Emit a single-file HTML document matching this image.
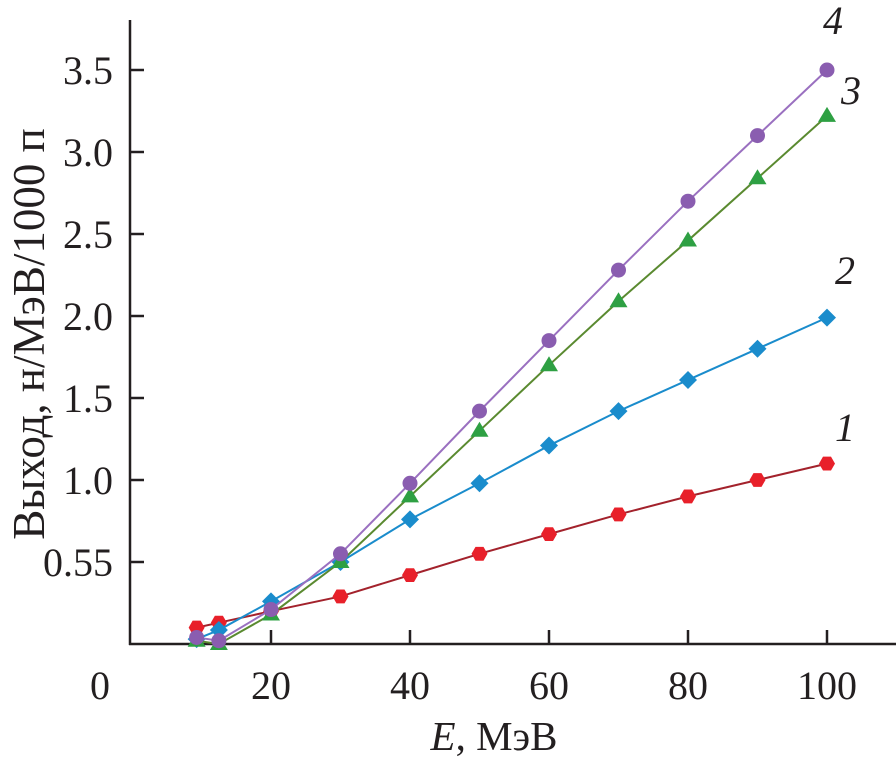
<!DOCTYPE html>
<html><head><meta charset="utf-8"><style>
body{margin:0;background:#fff}
svg text{font-family:"Liberation Serif",serif;fill:#231f20}
</style></head><body>
<svg width="896" height="759">
<g id="axes"></g><g id="series"></g>
</svg>
<script>
const energies=[9.3,12.5,20,30,40,50,60,70,80,90,100];
const s1=[0.10,0.13,0.20,0.29,0.42,0.55,0.67,0.79,0.90,1.00,1.10];
const s2=[0.03,0.085,0.26,0.50,0.76,0.98,1.21,1.42,1.61,1.80,1.99];
const s3=[0.02,0.00,0.18,0.50,0.90,1.30,1.70,2.09,2.46,2.84,3.22];
const s4=[0.04,0.02,0.21,0.55,0.98,1.42,1.85,2.28,2.70,3.10,3.50];
const xTicks=[20,40,60,80,100];
const yTicks=[0.5,1.0,1.5,2.0,2.5,3.0,3.5];
const yTickLabels=["0.55","1.0","1.5","2.0","2.5","3.0","3.5"];
const seriesNames=["1","2","3","4"];
const NS="http://www.w3.org/2000/svg";
const X=v=>132+(v-0)*6.95, Y=v=>644-v*164;
function mk(tag,attrs,parent,text){const e=document.createElementNS(NS,tag);for(const k in attrs)e.setAttribute(k,attrs[k]);if(text!==undefined)e.textContent=text;parent.appendChild(e);return e;}
const ax=document.getElementById('axes'), sg=document.getElementById('series');
let e=mk('line',{x1:130,y1:20,x2:130,y2:645,stroke:'#231f20','stroke-width':2.5},ax);

e=mk('line',{x1:129,y1:644,x2:896,y2:644,stroke:'#231f20','stroke-width':2.5},ax);

xTicks.forEach(t=>{mk('line',{x1:X(t),y1:644,x2:X(t),y2:630,stroke:'#231f20','stroke-width':2.5},ax);
const l=mk('text',{x:X(t),y:699,'font-size':40,'text-anchor':'middle'},ax,String(t));
});
const z=mk('text',{x:100,y:699,'font-size':40,'text-anchor':'middle'},ax,"0");

yTicks.forEach((t,i)=>{mk('line',{x1:130,y1:Y(t),x2:144,y2:Y(t),stroke:'#231f20','stroke-width':2.5},ax);
const l=mk('text',{x:113,y:Y(t)+14,'font-size':40,'text-anchor':'end'},ax,yTickLabels[i]);
});
e=mk('text',{x:0,y:0,'font-size':45,'text-anchor':'middle',transform:'translate(44,334) rotate(-90)'},ax,"Выход, н/МэВ/1000 п");

e=mk('text',{x:494,y:750,'font-size':41,'text-anchor':'middle'},ax,"");
mk('tspan',{'font-style':'italic'},e,"E");mk('tspan',{},e,", МэВ");

const defs=[
 {d:s1,line:'#a3222c',fill:'#e8202a',shape:'hex',lab:[845,441]},
 {d:s2,line:'#1a8ccc',fill:'#1a8ccc',shape:'dia',lab:[845,284]},
 {d:s3,line:'#5a8a30',fill:'#2ea043',shape:'tri',lab:[851,104]},
 {d:s4,line:'#9a70c0',fill:'#8a5db0',shape:'cir',lab:[833,34]}];
defs.forEach((s,si)=>{
 const g=mk('g',{},sg);
 
 const pts=energies.map((x,i)=>X(x)+','+Y(s.d[i])).join(' ');
 mk('polyline',{points:pts,fill:'none',stroke:s.line,'stroke-width':2},g);
 energies.forEach((x,i)=>{const cx=X(x),cy=Y(s.d[i]);let m;
  if(s.shape==='cir')m=mk('circle',{cx,cy,r:7.5,fill:s.fill},g);
  else if(s.shape==='dia')m=mk('polygon',{points:`${cx},${cy-9} ${cx+9},${cy} ${cx},${cy+9} ${cx-9},${cy}`,fill:s.fill},g);
  else if(s.shape==='tri')m=mk('polygon',{points:`${cx},${cy-9} ${cx+9},${cy+6} ${cx-9},${cy+6}`,fill:s.fill},g);
  else {let p=[];for(let k=0;k<6;k++){const a=Math.PI/3*k;p.push((cx+8*Math.cos(a))+','+(cy+8*Math.sin(a)));}m=mk('polygon',{points:p.join(' '),fill:s.fill},g);}
  });
 const t=mk('text',{x:s.lab[0],y:s.lab[1],'font-size':40,'font-style':'italic','text-anchor':'middle'},g,seriesNames[si]);
 
});
</script>
</body></html>
